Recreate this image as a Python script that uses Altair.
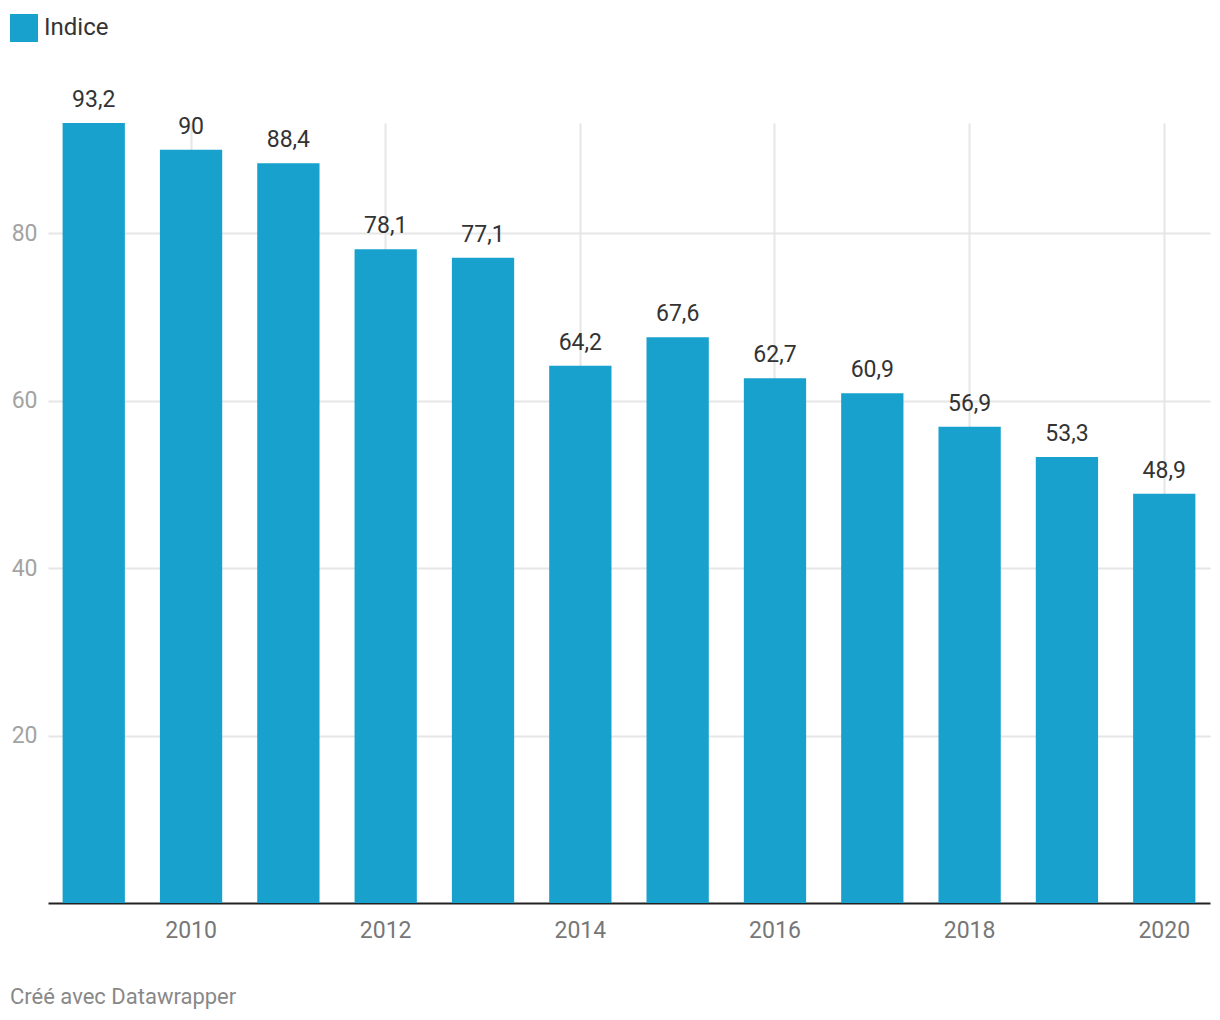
import altair as alt
import pandas as pd

years = [2009, 2010, 2011, 2012, 2013, 2014, 2015, 2016, 2017, 2018, 2019, 2020]
values = [93.2, 90, 88.4, 78.1, 77.1, 64.2, 67.6, 62.7, 60.9, 56.9, 53.3, 48.9]
series = "Indice"
x_ticks = [2010, 2012, 2014, 2016, 2018, 2020]
y_ticks = [20, 40, 60, 80]

df = pd.DataFrame({
    "year": years,
    "value": values,
    "series": [series] * len(years),
    "label": [f"{v:g}".replace(".", ",") for v in values],
})

FONT = "Roboto"
BAR = "#18a1cd"

x = alt.X("year:O",
          scale=alt.Scale(paddingInner=0.36, paddingOuter=0.15),
          axis=alt.Axis(values=x_ticks, title=None, labelAngle=0, ticks=False,
                        domain=True, domainColor="#222222", domainWidth=2,
                        grid=True, gridColor="#e6e6e6", gridWidth=2,
                        labelFont=FONT, labelFontSize=23, labelColor="#777777",
                        labelPadding=16, bandPosition=0.5))
y = alt.Y("value:Q",
          scale=alt.Scale(domain=[0, 93.2], nice=False, zero=True),
          axis=alt.Axis(values=y_ticks, title=None, ticks=False, domain=False,
                        grid=True, gridColor="#e6e6e6", gridWidth=2,
                        labelFont=FONT, labelFontSize=23, labelColor="#a3a3a3",
                        labelPadding=11, labelAlign="right"))

bars = alt.Chart(df).mark_bar(color=BAR).encode(
    x=x, y=y,
    color=alt.Color("series:N", scale=alt.Scale(range=[BAR]),
                    legend=alt.Legend(title=None, orient="none", legendX=-38, legendY=-109,
                                      symbolType="square", symbolSize=784,
                                      symbolStrokeWidth=0, symbolFillColor=BAR,
                                      labelFont=FONT, labelFontSize=24,
                                      labelColor="#333333", labelOffset=6, padding=0)),
)

texts = alt.Chart(df).mark_text(font=FONT, fontSize=23, color="#333333",
                                baseline="bottom", dy=-11).encode(
    x=alt.X("year:O"), y=alt.Y("value:Q"), text="label:N")

chart = alt.layer(bars, texts).properties(
    width=1162, height=780,
    padding={"left": 40, "top": 115, "right": 2, "bottom": 109},
    autosize=alt.AutoSizeParams(type="none"),
    title=alt.TitleParams(text="Créé avec Datawrapper", orient="bottom", anchor="start",
                          frame="group", dx=-38, offset=45, font=FONT, fontSize=22,
                          fontWeight="normal", color="#888888"),
).configure(background="white").configure_view(stroke=None, strokeWidth=0)

chart.save("out.html", embed_options={"renderer": "svg", "actions": False})
